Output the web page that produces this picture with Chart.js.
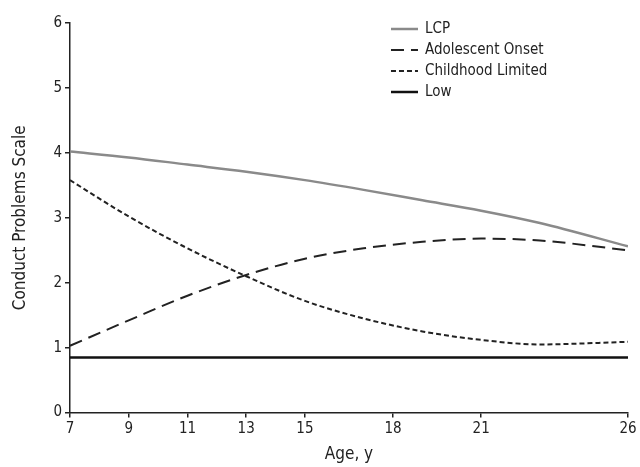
<!DOCTYPE html>
<html lang="en">
<head>
  <meta charset="UTF-8">
  <title>Conduct Problems Scale by Age</title>
  <script src="https://cdn.jsdelivr.net/npm/chart.js"></script>
  <style>
    body { margin: 0; background: #fff; }
    #wrap { width: 640px; height: 467px; }
  </style>
</head>
<body>
  <div id="wrap"><canvas id="cpChart" width="640" height="467"></canvas></div>
  <script>
    // values
    const ages = [7, 9, 11, 13, 15, 17, 19, 21, 23, 26];
    const ageTicks = [7, 9, 11, 13, 15, 18, 21, 26];
    const lcp = [4.02, 3.93, 3.82, 3.71, 3.58, 3.43, 3.27, 3.11, 2.92, 2.56];
    const adolescentOnset = [1.03, 1.42, 1.80, 2.12, 2.37, 2.53, 2.63, 2.68, 2.65, 2.50];
    const childhoodLimited = [3.58, 3.02, 2.53, 2.10, 1.72, 1.45, 1.25, 1.12, 1.05, 1.09];
    const low = [0.85, 0.85, 0.85, 0.85, 0.85, 0.85, 0.85, 0.85, 0.85, 0.85];

    const FONT = '"Liberation Sans Narrow", "DejaVu Sans Condensed", "Roboto", sans-serif';
    const INK = '#222';

    function pts(vals) {
      return vals.map((v, i) => ({ x: ages[i], y: v }));
    }

    // legend drawn inside the plot, top right
    const innerLegend = {
      id: 'innerLegend',
      afterDraw(chart) {
        const ctx = chart.ctx;
        const area = chart.chartArea;
        const x0 = area.left + 321;
        let y = area.top + 6;
        ctx.save();
        ctx.font = '15px ' + FONT;
        ctx.textBaseline = 'middle';
        chart.data.datasets.forEach(ds => {
          ctx.beginPath();
          ctx.strokeStyle = ds.borderColor;
          ctx.lineWidth = ds.borderWidth;
          ctx.setLineDash(ds.borderDash || []);
          ctx.moveTo(x0, y);
          ctx.lineTo(x0 + 27, y);
          ctx.stroke();
          ctx.setLineDash([]);
          ctx.fillStyle = INK;
          ctx.fillText(ds.label, x0 + 34, y);
          y += 21;
        });
        ctx.restore();
      }
    };

    new Chart(document.getElementById('cpChart'), {
      type: 'line',
      data: {
        datasets: [
          { label: 'LCP', data: pts(lcp), borderColor: '#8a8a8a', borderWidth: 2.5 },
          { label: 'Adolescent Onset', data: pts(adolescentOnset), borderColor: INK, borderWidth: 2, borderDash: [13, 7] },
          { label: 'Childhood Limited', data: pts(childhoodLimited), borderColor: INK, borderWidth: 2, borderDash: [5, 3] },
          { label: 'Low', data: pts(low), borderColor: '#111', borderWidth: 2.5 }
        ]
      },
      options: {
        responsive: false,
        animation: false,
        devicePixelRatio: 1,
        layout: { padding: { top: 23, right: 12, left: 10, bottom: 2 } },
        elements: {
          point: { radius: 0 },
          line: { cubicInterpolationMode: 'monotone', fill: false }
        },
        plugins: {
          legend: { display: false },
          tooltip: { enabled: false }
        },
        scales: {
          x: {
            type: 'linear',
            min: 7,
            max: 26,
            afterBuildTicks: axis => { axis.ticks = ageTicks.map(v => ({ value: v })); },
            grid: { drawOnChartArea: false, drawTicks: true, tickLength: 5, color: INK, lineWidth: 1.5 },
            border: { display: true, color: INK, width: 1.5 },
            ticks: { color: INK, font: { family: FONT, size: 15 }, padding: 3, maxRotation: 0, autoSkip: false },
            title: { display: true, text: 'Age, y', color: INK, font: { family: FONT, size: 17 }, padding: { top: 3, bottom: 0 } }
          },
          y: {
            min: 0,
            max: 6,
            ticks: { stepSize: 1, color: INK, font: { family: FONT, size: 15 }, padding: 3 },
            grid: { drawOnChartArea: false, drawTicks: true, tickLength: 5, color: INK, lineWidth: 1.5 },
            border: { display: true, color: INK, width: 1.5 },
            title: { display: true, text: 'Conduct Problems Scale', color: INK, font: { family: FONT, size: 17 }, padding: { top: 0, bottom: 20 } }
          }
        }
      },
      plugins: [innerLegend]
    });
  </script>
</body>
</html>
